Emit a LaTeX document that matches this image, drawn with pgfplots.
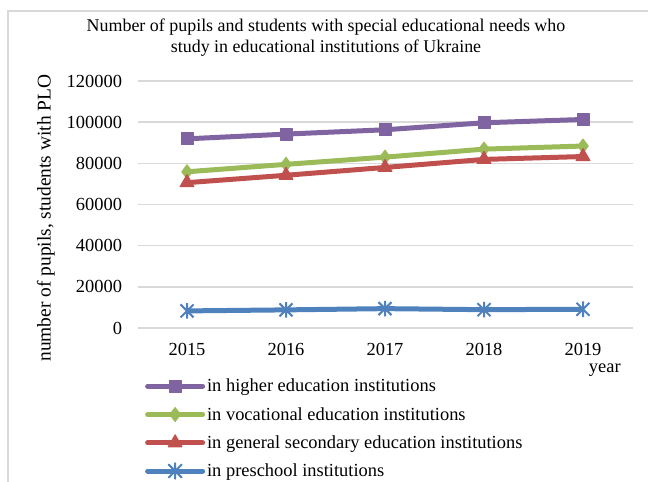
\documentclass[border=0pt]{standalone}
\usepackage{fontspec}
\setmainfont{Liberation Serif}
\usepackage{pgfplots}
\pgfplotsset{compat=1.18}
\definecolor{cpurple}{RGB}{128,100,162}
\definecolor{cgreen}{RGB}{155,187,89}
\definecolor{cred}{RGB}{192,80,77}
\definecolor{cblue}{RGB}{79,129,189}
\definecolor{cgrid}{RGB}{217,217,217}
\pgfdeclareplotmark{xstar}{%
  \pgfpathmoveto{\pgfqpoint{-\pgfplotmarksize}{-\pgfplotmarksize}}%
  \pgfpathlineto{\pgfqpoint{\pgfplotmarksize}{\pgfplotmarksize}}%
  \pgfpathmoveto{\pgfqpoint{-\pgfplotmarksize}{\pgfplotmarksize}}%
  \pgfpathlineto{\pgfqpoint{\pgfplotmarksize}{-\pgfplotmarksize}}%
  \pgfpathmoveto{\pgfqpoint{0pt}{-1.2\pgfplotmarksize}}%
  \pgfpathlineto{\pgfqpoint{0pt}{1.2\pgfplotmarksize}}%
  \pgfusepathqstroke}
\begin{document}
\begin{tikzpicture}[x=1bp,y=1bp]
\begin{axis}[
  at={(137.5bp,154bp)}, anchor=south west,
  scale only axis, width=495bp, height=247bp,
  xmin=-0.5, xmax=4.5, ymin=0, ymax=120000,
  scaled y ticks=false,
  xtick={0,1,2,3,4}, xticklabels={2015,2016,2017,2018,2019},
  ytick={0,20000,40000,60000,80000,100000,120000},
  yticklabels={0,20000,40000,60000,80000,100000,120000},
  axis line style={draw=none}, major tick length=0pt,
  ymajorgrids, grid style={cgrid, line width=1.5bp},
  tick label style={font=\fontsize{18.5}{21}\selectfont},
  yticklabel style={xshift=-12bp},
  xticklabel style={yshift=-12bp},
  xlabel={year},
  xlabel style={at={(axis description cs:0.944,-0.172)}, anchor=center, font=\fontsize{18.5}{21}\selectfont},
  ylabel={number of pupils, students with PLO},
  ylabel style={at={(axis description cs:-0.185,0.445)}, anchor=center, font=\fontsize{19.5}{21}\selectfont},
  clip=false,
  legend style={at={(axis description cs:0.015,-0.198)}, anchor=north west,
    draw=none, fill=none, font=\fontsize{18.5}{21}\selectfont, row sep=10bp,
    inner sep=0pt},
  legend cell align=left,
  legend image code/.code={\draw[#1, line cap=round, mark repeat=2, mark phase=2] plot coordinates {(0bp,0bp) (27.5bp,0bp) (55bp,0bp)};},
  every axis plot/.append style={line width=5bp, line join=round},
]
\addplot[cpurple, mark=square*, mark size=6bp, mark options={solid, line width=1bp}] coordinates {(0,91900) (1,94200) (2,96300) (3,99700) (4,101300)};
\addlegendentry{in higher education institutions}
\addplot[cgreen, mark=diamond*, mark size=7bp, mark options={solid, line width=1bp}] coordinates {(0,75900) (1,79500) (2,83000) (3,86900) (4,88400)};
\addlegendentry{in vocational education institutions}
\addplot[cred, mark=triangle*, mark size=8bp, mark options={solid, line width=1bp}] coordinates {(0,70600) (1,74200) (2,78000) (3,81900) (4,83300)};
\addlegendentry{in general secondary education institutions}
\addplot[cblue, mark=xstar, mark size=6.5bp, mark options={solid, line width=2bp}] coordinates {(0,8300) (1,8800) (2,9400) (3,8900) (4,9100)};
\addlegendentry{in preschool institutions}
\end{axis}
\node[font=\fontsize{18}{21}\selectfont, align=center] at (326,444.5)
  {Number of pupils and students with special educational needs who\\study in educational institutions of Ukraine};
\begin{scope}
\clip (0,0) rectangle (648,482);
\draw[cgrid, line width=1.5bp] (8,-30) rectangle (670,471);
\end{scope}
\pgfresetboundingbox
\useasboundingbox (0,0) rectangle (648,482);
\end{tikzpicture}
\end{document}
